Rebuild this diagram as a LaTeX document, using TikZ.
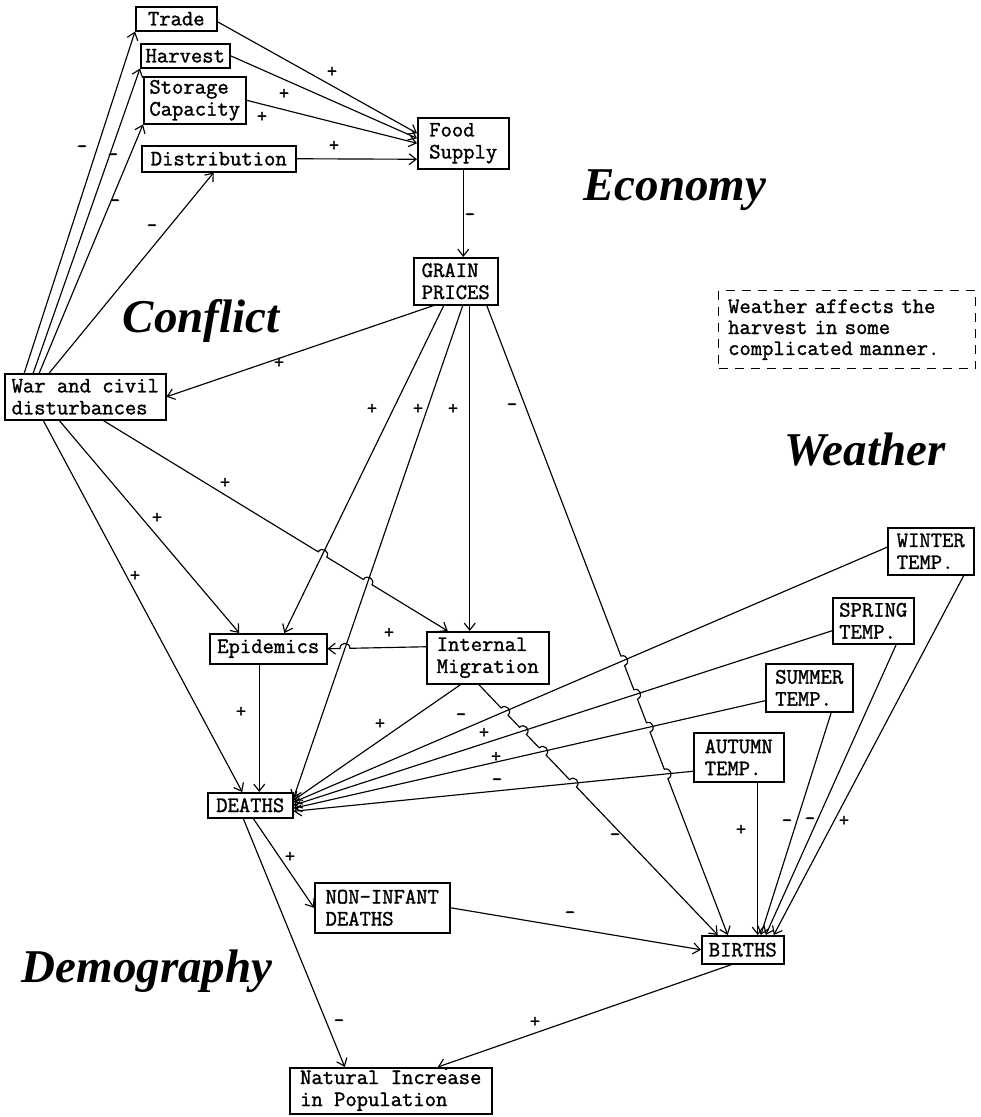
\documentclass[tikz,border=0pt]{standalone}
\usepackage{fontspec}
\newfontfamily\titlefont{Liberation Serif}
\newfontfamily\typerfont{Latin Modern Mono}[FakeBold=1.4]
\usetikzlibrary{arrows.meta,calc,intersections}
\newcommand\hoplen{5pt}
\newcommand\boxfont{\typerfont\fontsize{22}{22}\selectfont}
\begin{document}
\begin{tikzpicture}[x=1pt,y=1pt,
  box/.style={draw, line width=1.5pt, inner sep=2pt, anchor=north west,
    font=\boxfont, align=left},
  notebox/.style={draw, dash pattern=on 9pt off 7pt, line width=1.3pt, anchor=north west,
    text width=238pt, inner xsep=9.5pt, inner ysep=4pt, minimum height=78pt, align=left,
    font=\typerfont\fontsize{22}{21}\selectfont},
  arr/.style={-{Straight Barb[length=7pt,width=11pt]}, line width=1.15pt},
  lbl/.style={font=\typerfont\fontsize{20}{20}\selectfont, inner sep=0pt},
  ttl/.style={font=\titlefont\bfseries\itshape\fontsize{47}{50}\selectfont, anchor=base},
  hop/.style={bend left=90, looseness=1.7},
  hopr/.style={bend right=90, looseness=1.7}]
\fill[white] (0,0) rectangle (981,-1117);
\useasboundingbox (0,0) rectangle (981,-1117);

% titles
\node[ttl] (economy) at (675,-200) {Economy};
\node[ttl] (conflict) at (201,-332) {Conflict};
\node[ttl] (weather) at (865,-465) {Weather};
\node[ttl] (demography) at (147,-982) {Demography};

% boxes
\node[box, minimum width=81pt, minimum height=24pt] (trade) at (135,-6) {Trade};
\node[box, minimum width=89pt, minimum height=24pt] (harvest) at (140,-43) {Harvest};
\node[box, minimum width=102pt, minimum height=47pt] (storage) at (143,-76) {Storage\\Capacity};
\node[box, minimum width=154pt, minimum height=26pt] (distr) at (141,-145) {Distribution};
\node[box, minimum width=91pt, minimum height=51pt] (food) at (417,-117) {Food\\Supply};
\node[box, minimum width=84pt, minimum height=47pt] (grain) at (413,-257) {GRAIN\\PRICES};
\node[box, minimum width=161pt, minimum height=46pt] (war) at (4,-373) {War and civil\\disturbances};
\node[box, minimum width=117pt, minimum height=30pt] (epid) at (209,-633) {Epidemics};
\node[box, minimum width=122pt, minimum height=52pt] (migr) at (426,-631) {Internal\\Migration};
\node[box, minimum width=85pt, minimum height=25pt] (deaths) at (207,-792) {DEATHS};
\node[box, minimum width=86pt, minimum height=47pt] (winter) at (887,-527) {WINTER\\TEMP.};
\node[box, minimum width=81pt, minimum height=46pt] (spring) at (832,-597) {SPRING\\TEMP.};
\node[box, minimum width=87pt, minimum height=48pt] (summer) at (765,-663) {SUMMER\\TEMP.};
\node[box, minimum width=90pt, minimum height=49pt] (autumn) at (693,-732) {AUTUMN\\TEMP.};
\node[box, minimum width=135pt, minimum height=50pt] (noninf) at (314,-882) {NON-INFANT\\DEATHS};
\node[box, minimum width=82pt, minimum height=28pt] (births) at (701,-935) {BIRTHS};
\node[box, minimum width=202pt, minimum height=46pt] (natural) at (289,-1067) {Natural Increase\\in Population};
\node[notebox] (note) at (718,-290) {Weather affects the\\harvest in some\\complicated manner.};

% economy inputs
\draw[arr] ([yshift=-3pt]trade.east) -- ([yshift=10pt]food.west) node[lbl] at (332,-72) {+};
\draw[arr] (harvest.east) -- ([yshift=5pt]food.west) node[lbl] at (284,-94) {+};
\draw[arr] (storage.east) -- (food.west) node[lbl] at (262,-117) {+};
\draw[arr] (distr.east) -- ([yshift=-16pt]food.west) node[lbl] at (334,-146) {+};
\draw[arr] (food.south) -- (food.south |- grain.north) node[lbl] at (470,-217) {-};
\draw[arr] ([xshift=-22pt]grain.south) -- (war.east) node[lbl] at (279,-363) {+};

% war outputs upward
\draw[arr] ([xshift=-61pt]war.north) -- (trade.south west) node[lbl] at (82,-149) {-};
\draw[arr] ([xshift=-52pt]war.north) -- (harvest.south west) node[lbl] at (113,-157) {-};
\draw[arr] ([xshift=-46pt]war.north) -- (storage.south west) node[lbl] at (115,-203) {-};
\draw[arr] ([xshift=-36pt]war.north) -- ([xshift=-5pt]distr.south) node[lbl] at (152,-228) {-};

% war outputs downward
\draw[arr] ([xshift=-42pt]war.south) -- ([xshift=-8pt]deaths.north) node[lbl] at (135,-576) {+};
\draw[arr] ([xshift=-26pt]war.south) -- ([xshift=-29pt]epid.north) node[lbl] at (157,-518) {+};

% grain prices outputs
\coordinate (geA) at ([xshift=-12pt]grain.south);
\coordinate (geB) at ([xshift=16pt]epid.north);
\draw[arr, name path=ge] (geA) -- (geB) node[lbl] at (372,-409) {+};
\coordinate (gdA) at ([xshift=7pt]grain.south);
\coordinate (gdB) at ([yshift=7pt]deaths.east);
\draw[arr, name path=gd] (gdA) -- (gdB) node[lbl] at (418,-409) {+};
\draw[arr] ([xshift=14pt]grain.south) -- ([xshift=14pt]grain.south |- migr.north) node[lbl] at (453,-409) {+};

% temperatures to deaths
\coordinate (wdA) at ([yshift=4pt]winter.west);
\coordinate (wdB) at ([yshift=3pt]deaths.east);
\draw[arr, name path=wd] (wdA) -- (wdB) node[lbl] at (461,-717) {-};
\coordinate (sdA) at ([yshift=-10pt]spring.west);
\coordinate (sdB) at (deaths.east);
\draw[arr, name path=sd] (sdA) -- (sdB) node[lbl] at (484,-733) {+};
\coordinate (udA) at ([yshift=-13pt]summer.west);
\coordinate (udB) at ([yshift=-3pt]deaths.east);
\draw[arr, name path=ud] (udA) -- (udB) node[lbl] at (496,-757) {+};
\coordinate (adA) at ([yshift=-14pt]autumn.west);
\coordinate (adB) at ([yshift=-6pt]deaths.east);
\draw[arr, name path=ad] (adA) -- (adB) node[lbl] at (497,-782) {-};

% grain prices to births (with hops)
\coordinate (gbA) at ([xshift=31pt]grain.south);
\coordinate (gbB) at ([xshift=-15pt]births.north);
\path[name path=gb] (gbA) -- (gbB);
\path[name intersections={of=gb and wd,by=gb1}];
\path[name intersections={of=gb and sd,by=gb2}];
\path[name intersections={of=gb and ud,by=gb3}];
\path[name intersections={of=gb and ad,by=gb4}];
\draw[arr] (gbA) -- ($(gb1)!\hoplen!(gbA)$) to[hop] ($(gb1)!\hoplen!(gbB)$)
  -- ($(gb2)!\hoplen!(gbA)$) to[hop] ($(gb2)!\hoplen!(gbB)$)
  -- ($(gb3)!\hoplen!(gbA)$) to[hop] ($(gb3)!\hoplen!(gbB)$)
  -- ($(gb4)!\hoplen!(gbA)$) to[hop] ($(gb4)!\hoplen!(gbB)$)
  -- (gbB) node[lbl] at (512,-407) {-};

% war to migration (with hops)
\coordinate (wmA) at ([xshift=18pt]war.south);
\coordinate (wmB) at ([xshift=-40pt]migr.north);
\path[name path=wm] (wmA) -- (wmB);
\path[name intersections={of=wm and ge,by=wm1}];
\path[name intersections={of=wm and gd,by=wm2}];
\draw[arr] (wmA) -- ($(wm1)!\hoplen!(wmA)$) to[hop] ($(wm1)!\hoplen!(wmB)$)
  -- ($(wm2)!\hoplen!(wmA)$) to[hop] ($(wm2)!\hoplen!(wmB)$)
  -- (wmB) node[lbl] at (225,-483) {+};

% migration outputs
\coordinate (meA) at ([yshift=11pt]migr.west);
\coordinate (meB) at (epid.east);
\path[name path=me] (meA) -- (meB);
\path[name intersections={of=me and gd,by=me1}];
\draw[arr] (meA) -- ($(me1)!\hoplen!(meA)$) to[hopr] ($(me1)!\hoplen!(meB)$)
  -- (meB) node[lbl] at (389,-633) {+};
\draw[arr] ([xshift=-27pt]migr.south) -- ([yshift=5pt]deaths.east) node[lbl] at (380,-724) {+};
\coordinate (mbA) at ([xshift=-9pt]migr.south);
\coordinate (mbB) at ([xshift=-25pt]births.north);
\path[name path=mb] (mbA) -- (mbB);
\path[name intersections={of=mb and wd,by=mb1}];
\path[name intersections={of=mb and sd,by=mb2}];
\path[name intersections={of=mb and ud,by=mb3}];
\path[name intersections={of=mb and ad,by=mb4}];
\draw[arr] (mbA) -- ($(mb1)!\hoplen!(mbA)$) to[hop] ($(mb1)!\hoplen!(mbB)$)
  -- ($(mb2)!\hoplen!(mbA)$) to[hop] ($(mb2)!\hoplen!(mbB)$)
  -- ($(mb3)!\hoplen!(mbA)$) to[hop] ($(mb3)!\hoplen!(mbB)$)
  -- ($(mb4)!\hoplen!(mbA)$) to[hop] ($(mb4)!\hoplen!(mbB)$)
  -- (mbB) node[lbl] at (615,-837) {-};

% epidemics to deaths
\draw[arr] ([xshift=-9pt]epid.south) -- ([xshift=-9pt]epid.south |- deaths.north) node[lbl] at (241,-712) {+};

% temperatures to births
\draw[arr] ([xshift=33pt]winter.south) -- ([xshift=31pt]births.north) node[lbl] at (844,-821) {+};
\draw[arr] ([xshift=23pt]spring.south) -- ([xshift=23pt]births.north) node[lbl] at (810,-821) {-};
\draw[arr] ([xshift=22pt]summer.south) -- ([xshift=18pt]births.north) node[lbl] at (787,-823) {-};
\draw[arr] ([xshift=19pt]autumn.south) -- ([xshift=15pt]births.north) node[lbl] at (741,-830) {+};

% demography
\draw[arr] ([xshift=3pt]deaths.south) -- (noninf.west) node[lbl] at (290,-857) {+};
\draw[arr] ([xshift=-7pt]deaths.south) -- ([xshift=-46pt]natural.north) node[lbl] at (339,-1023) {-};
\draw[arr] (noninf.east) -- (births.west) node[lbl] at (570,-915) {-};
\draw[arr] ([xshift=-11pt]births.south) -- ([xshift=47pt]natural.north) node[lbl] at (535,-1022) {+};
\end{tikzpicture}
\end{document}
